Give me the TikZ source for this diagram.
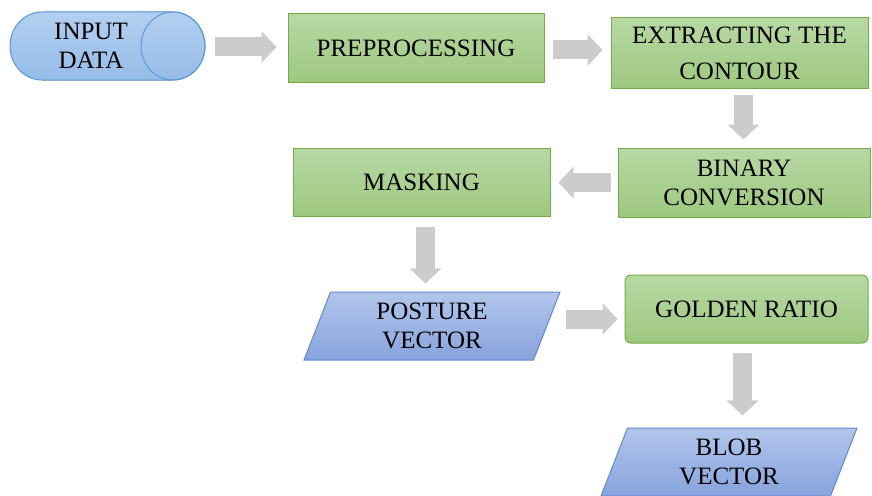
\documentclass[tikz,border=0pt]{standalone}
\usepackage{fontspec}
\setmainfont{Liberation Serif}
\usetikzlibrary{arrows.meta,shapes.geometric}
\definecolor{gtop}{RGB}{184,216,164}
\definecolor{gbot}{RGB}{158,200,128}
\definecolor{gline}{RGB}{112,173,71}
\definecolor{btop}{RGB}{178,198,236}
\definecolor{bbot}{RGB}{135,163,220}
\definecolor{bline}{RGB}{100,135,205}
\definecolor{ctop}{RGB}{178,207,240}
\definecolor{cbot}{RGB}{150,188,232}
\definecolor{cline}{RGB}{91,155,213}
\definecolor{arr}{RGB}{204,204,204}
\tikzset{
  txt/.style={align=center, font=\fontsize{25}{29}\selectfont},
  gbox/.style={txt, draw=gline, line width=1pt, top color=gtop, bottom color=gbot,
    inner sep=0pt, minimum height=68pt},
  para/.style={txt, trapezium, trapezium left angle=60, trapezium right angle=120,
    trapezium stretches body, draw=bline, line width=1pt, top color=btop, bottom color=bbot,
    inner sep=0pt, minimum width=256pt, minimum height=68pt},
  flow/.style={draw=arr, line width=19pt, -{Triangle[length=15pt,width=31pt]}, arr},
}
\begin{document}
\begin{tikzpicture}[x=1pt,y=-1pt]
\useasboundingbox (0,0) rectangle (872,495);
\clip (0,0) rectangle (872,495);
% input cylinder
\node[minimum width=195pt, minimum height=68pt, inner sep=0pt] (incyl) at (107.5,46) {};
\filldraw[draw=cline, line width=1pt, top color=ctop, bottom color=cbot]
  (42,12) -- (173,12) arc[start angle=-90, end angle=90, x radius=32, y radius=34]
  -- (42,80) arc[start angle=90, end angle=270, x radius=32, y radius=34] -- cycle;
\draw[cline, line width=1pt] (173,46) ellipse [x radius=32, y radius=34];
\node[txt] (in) at (91,46) {INPUT\\DATA};

\node[gbox, minimum width=256pt] (pre) at (416,48) {PREPROCESSING};
\node[gbox, minimum width=257pt, minimum height=70pt] (ext) at (739.5,53) {EXTRACTING THE\\[7pt]CONTOUR};
\node[gbox, minimum width=252pt, minimum height=69pt] (bin) at (744,182.5) {BINARY\\CONVERSION};
\node[gbox, minimum width=257pt] (mask) at (421.5,182) {MASKING};
\node[para] (post) at (432,326) {POSTURE\\VECTOR};
\node[gbox, minimum width=243pt, rounded corners=6pt] (gold) at (746.5,309) {GOLDEN RATIO};
\node[para] (blob) at (729,462) {BLOB\\VECTOR};

\draw[flow, shorten <=10pt, shorten >=11pt] ([yshift=-1pt]incyl.east) -- ([yshift=-1pt]incyl.east -| pre.west);
\draw[flow, shorten <=8pt, shorten >=8pt] ([yshift=-2pt]pre.east) -- ([yshift=-2pt]pre.east -| ext.west);
\draw[flow, shorten <=6pt, shorten >=8pt] ([xshift=4pt]ext.south) -- ([xshift=4pt]ext.south |- bin.north);
\draw[flow, shorten <=7pt, shorten >=8pt] (bin.west) -- (bin.west -| mask.east);
\draw[flow, shorten <=10pt, shorten >=8pt] ([xshift=4pt]mask.south) -- ([xshift=4pt]mask.south |- post.north);
\draw[flow, shorten <=19pt, shorten >=7pt] ([yshift=7pt]post.east) -- ([yshift=7pt]post.east -| gold.west);
\draw[flow, shorten <=9pt, shorten >=12pt] ([xshift=-4pt]gold.south) -- ([xshift=-4pt]gold.south |- blob.north);
\end{tikzpicture}
\end{document}
